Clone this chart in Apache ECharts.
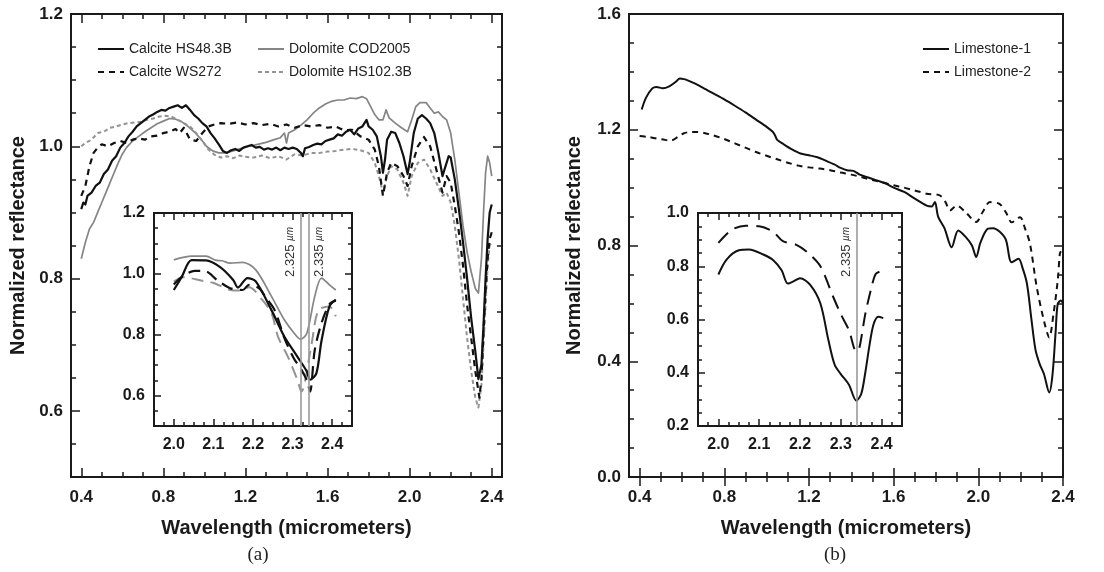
<!DOCTYPE html>
<html><head><meta charset="utf-8">
<script src="https://cdn.jsdelivr.net/npm/echarts@6/dist/echarts.min.js"></script>
<style>html,body{margin:0;padding:0;background:#fff}#c{width:1104px;height:572px}</style>
</head><body><div id="c"></div><script>
// ---------- tick labels ----------
const mainXTicks = [0.4, 0.8, 1.2, 1.6, 2.0, 2.4];
const mainAYTicks = [0.6, 0.8, 1.0, 1.2];
const mainBYTicks = [0.0, 0.4, 0.8, 1.2, 1.6];
const insetXTicks = [2.0, 2.1, 2.2, 2.3, 2.4];
const insetAYTicks = [0.6, 0.8, 1.0, 1.2];
const insetBYTicks = [0.2, 0.4, 0.6, 0.8, 1.0];

// ---------- panel (a) main ----------
const calciteHS48 = [[0.40,0.905],[0.41,0.915],[0.42,0.912],[0.43,0.925],[0.45,0.93],[0.47,0.94],[0.49,0.945],[0.51,0.958],[0.53,0.965],[0.55,0.978],[0.57,0.985],[0.59,0.998],[0.61,1.005],[0.63,1.015],[0.65,1.022],[0.67,1.03],[0.69,1.035],[0.71,1.04],[0.73,1.045],[0.75,1.048],[0.77,1.052],[0.79,1.055],[0.81,1.054],[0.83,1.058],[0.85,1.06],[0.87,1.062],[0.89,1.058],[0.91,1.062],[0.93,1.055],[0.95,1.047],[0.97,1.042],[0.99,1.035],[1.01,1.03],[1.03,1.02],[1.05,1.012],[1.07,1.003],[1.09,0.993],[1.11,0.99],[1.13,0.994],[1.15,0.996],[1.17,0.993],[1.19,0.998],[1.21,1.0],[1.23,1.002],[1.25,0.998],[1.27,0.999],[1.29,0.995],[1.31,0.997],[1.33,0.995],[1.35,0.998],[1.37,0.994],[1.39,0.998],[1.41,0.996],[1.43,0.998],[1.45,0.996],[1.47,0.99],[1.48,0.985],[1.49,0.997],[1.51,0.999],[1.53,1.002],[1.55,1.004],[1.57,1.003],[1.59,1.008],[1.61,1.01],[1.63,1.012],[1.65,1.018],[1.67,1.016],[1.69,1.022],[1.71,1.025],[1.73,1.018],[1.75,1.027],[1.77,1.03],[1.79,1.04],[1.80,1.03],[1.82,1.025],[1.84,1.015],[1.86,0.985],[1.87,0.96],[1.88,0.98],[1.89,1.01],[1.91,1.022],[1.93,1.02],[1.95,1.005],[1.97,0.985],[1.99,0.958],[2.00,0.975],[2.02,1.02],[2.04,1.042],[2.06,1.047],[2.08,1.042],[2.10,1.035],[2.12,1.02],[2.14,0.99],[2.16,0.955],[2.17,0.965],[2.19,0.985],[2.20,0.983],[2.22,0.95],[2.24,0.905],[2.26,0.855],[2.28,0.8],[2.30,0.74],[2.32,0.69],[2.335,0.648],[2.35,0.67],[2.36,0.73],[2.37,0.8],[2.38,0.86],[2.39,0.9],[2.40,0.912]];
const calciteWS272 = [[0.40,0.925],[0.42,0.94],[0.44,0.97],[0.46,0.99],[0.48,0.998],[0.50,1.003],[0.53,1.0],[0.56,1.005],[0.59,1.008],[0.62,1.005],[0.65,1.01],[0.68,1.012],[0.71,1.01],[0.74,1.015],[0.77,1.016],[0.80,1.02],[0.83,1.022],[0.86,1.026],[0.88,1.02],[0.90,1.028],[0.93,1.01],[0.96,1.008],[0.99,1.02],[1.02,1.03],[1.05,1.033],[1.08,1.035],[1.12,1.034],[1.16,1.036],[1.20,1.033],[1.24,1.035],[1.28,1.032],[1.32,1.034],[1.36,1.03],[1.40,1.033],[1.44,1.028],[1.48,1.032],[1.52,1.03],[1.56,1.032],[1.60,1.028],[1.64,1.03],[1.68,1.024],[1.72,1.025],[1.76,1.015],[1.80,1.01],[1.83,0.995],[1.85,0.97],[1.87,0.925],[1.89,0.96],[1.91,0.975],[1.94,0.97],[1.97,0.955],[1.99,0.94],[2.01,0.97],[2.04,1.0],[2.07,1.014],[2.10,1.0],[2.13,0.965],[2.16,0.93],[2.18,0.955],[2.20,0.945],[2.22,0.91],[2.24,0.87],[2.26,0.82],[2.28,0.76],[2.30,0.71],[2.32,0.66],[2.34,0.62],[2.35,0.65],[2.36,0.72],[2.37,0.78],[2.38,0.83],[2.39,0.86],[2.40,0.87]];
const dolomiteCOD = [[0.40,0.83],[0.42,0.855],[0.44,0.875],[0.46,0.885],[0.48,0.9],[0.50,0.915],[0.52,0.93],[0.54,0.945],[0.56,0.96],[0.58,0.975],[0.60,0.988],[0.62,0.998],[0.65,1.008],[0.68,1.015],[0.71,1.022],[0.74,1.028],[0.77,1.034],[0.80,1.038],[0.83,1.042],[0.86,1.041],[0.89,1.037],[0.92,1.03],[0.95,1.022],[0.98,1.012],[1.01,1.0],[1.04,0.993],[1.07,0.99],[1.10,0.99],[1.14,0.993],[1.18,0.997],[1.22,1.0],[1.26,1.003],[1.30,1.006],[1.34,1.01],[1.37,1.013],[1.39,1.02],[1.40,1.005],[1.41,1.02],[1.44,1.025],[1.47,1.032],[1.50,1.04],[1.53,1.05],[1.56,1.058],[1.59,1.064],[1.62,1.068],[1.65,1.07],[1.68,1.07],[1.71,1.073],[1.74,1.072],[1.77,1.075],[1.79,1.072],[1.81,1.06],[1.83,1.048],[1.85,1.04],[1.87,1.04],[1.885,1.055],[1.90,1.043],[1.93,1.035],[1.96,1.028],[1.99,1.022],[2.01,1.04],[2.03,1.06],[2.05,1.066],[2.08,1.066],[2.10,1.058],[2.12,1.05],[2.14,1.052],[2.16,1.045],[2.18,1.04],[2.20,1.02],[2.22,0.98],[2.24,0.93],[2.26,0.88],[2.28,0.84],[2.30,0.81],[2.32,0.785],[2.335,0.778],[2.35,0.83],[2.36,0.9],[2.37,0.96],[2.38,0.985],[2.39,0.975],[2.40,0.955]];
const dolomiteHS102 = [[0.40,1.0],[0.42,1.005],[0.45,1.01],[0.48,1.02],[0.51,1.022],[0.54,1.028],[0.57,1.03],[0.60,1.033],[0.63,1.035],[0.66,1.036],[0.69,1.037],[0.72,1.04],[0.75,1.042],[0.78,1.045],[0.81,1.046],[0.84,1.045],[0.87,1.04],[0.90,1.035],[0.93,1.03],[0.96,1.02],[0.99,1.008],[1.02,0.995],[1.05,0.987],[1.08,0.983],[1.11,0.985],[1.14,0.982],[1.17,0.986],[1.20,0.984],[1.24,0.983],[1.28,0.986],[1.32,0.982],[1.36,0.985],[1.40,0.98],[1.44,0.988],[1.48,0.986],[1.52,0.99],[1.56,0.99],[1.60,0.992],[1.64,0.993],[1.68,0.995],[1.72,0.996],[1.76,0.994],[1.80,0.99],[1.83,0.975],[1.85,0.955],[1.87,0.93],[1.89,0.955],[1.91,0.97],[1.94,0.965],[1.97,0.945],[1.99,0.925],[2.01,0.955],[2.04,0.975],[2.07,0.98],[2.10,0.965],[2.13,0.945],[2.16,0.925],[2.18,0.93],[2.20,0.915],[2.22,0.88],[2.24,0.83],[2.26,0.77],[2.28,0.71],[2.30,0.66],[2.32,0.62],[2.335,0.605],[2.35,0.64],[2.36,0.7],[2.37,0.76],[2.38,0.82],[2.39,0.85],[2.40,0.855]];

// ---------- panel (a) inset ----------
const insetCalciteHS48 = [[2.0,0.947],[2.02,0.99],[2.045,1.045],[2.081,1.044],[2.117,1.022],[2.15,0.98],[2.162,0.955],[2.186,0.986],[2.207,0.975],[2.247,0.88],[2.279,0.794],[2.312,0.728],[2.336,0.679],[2.344,0.652],[2.36,0.673],[2.373,0.78],[2.393,0.893],[2.409,0.915]];
const insetCalciteWS272 = [[2.0,0.965],[2.02,0.99],[2.053,1.01],[2.081,1.008],[2.109,0.98],[2.142,0.953],[2.174,0.947],[2.19,0.964],[2.215,0.953],[2.231,0.925],[2.255,0.88],[2.279,0.79],[2.304,0.72],[2.32,0.69],[2.336,0.65],[2.344,0.613],[2.356,0.75],[2.373,0.838],[2.393,0.9],[2.409,0.912]];
const insetDolomiteCOD = [[2.0,1.046],[2.045,1.058],[2.081,1.058],[2.105,1.045],[2.122,1.043],[2.142,1.035],[2.174,1.038],[2.207,1.013],[2.247,0.925],[2.279,0.849],[2.304,0.805],[2.32,0.785],[2.336,0.805],[2.356,0.926],[2.373,0.986],[2.393,0.964],[2.409,0.947]];
const insetDolomiteHS102 = [[2.0,0.975],[2.024,0.989],[2.069,0.978],[2.101,0.97],[2.142,0.947],[2.166,0.945],[2.19,0.956],[2.223,0.915],[2.247,0.87],[2.263,0.794],[2.288,0.728],[2.312,0.652],[2.322,0.613],[2.348,0.77],[2.365,0.88],[2.393,0.893],[2.409,0.86]];
const insetAMarkerPos = [2.317, 2.337];
const insetAMarkerText = ['2.325', '2.335'];

// ---------- panel (b) main ----------
const limestone1 = [[0.41,1.27],[0.43,1.31],[0.46,1.343],[0.48,1.348],[0.51,1.343],[0.54,1.35],[0.57,1.365],[0.59,1.377],[0.61,1.375],[0.63,1.37],[0.66,1.36],[0.70,1.345],[0.75,1.325],[0.80,1.305],[0.85,1.283],[0.90,1.26],[0.95,1.235],[1.00,1.21],[1.03,1.192],[1.04,1.18],[1.05,1.165],[1.08,1.15],[1.12,1.132],[1.16,1.118],[1.20,1.112],[1.24,1.105],[1.28,1.093],[1.32,1.08],[1.35,1.068],[1.38,1.06],[1.41,1.058],[1.44,1.045],[1.48,1.035],[1.52,1.025],[1.56,1.015],[1.60,1.0],[1.65,0.985],[1.70,0.962],[1.756,0.938],[1.78,0.935],[1.795,0.95],[1.81,0.9],[1.84,0.86],[1.874,0.794],[1.905,0.852],[1.94,0.83],[1.97,0.8],[1.99,0.76],[2.01,0.81],[2.045,0.858],[2.07,0.86],[2.10,0.848],[2.13,0.82],[2.157,0.742],[2.19,0.754],[2.21,0.72],[2.23,0.667],[2.25,0.55],[2.27,0.44],[2.29,0.39],[2.31,0.356],[2.335,0.292],[2.35,0.35],[2.365,0.5],[2.375,0.598],[2.39,0.61],[2.40,0.6]];
const limestone2 = [[0.40,1.178],[0.44,1.175],[0.48,1.17],[0.52,1.165],[0.55,1.163],[0.58,1.175],[0.61,1.188],[0.64,1.192],[0.67,1.192],[0.71,1.188],[0.75,1.18],[0.80,1.168],[0.85,1.153],[0.90,1.138],[0.95,1.123],[1.00,1.11],[1.05,1.098],[1.10,1.086],[1.15,1.076],[1.20,1.07],[1.25,1.066],[1.30,1.06],[1.35,1.052],[1.40,1.045],[1.45,1.036],[1.50,1.026],[1.55,1.018],[1.60,1.008],[1.65,1.0],[1.70,0.99],[1.756,0.979],[1.818,0.973],[1.845,0.95],[1.866,0.921],[1.898,0.938],[1.94,0.915],[1.99,0.881],[2.02,0.915],[2.055,0.95],[2.10,0.944],[2.13,0.915],[2.158,0.88],[2.197,0.898],[2.22,0.86],[2.244,0.806],[2.276,0.656],[2.31,0.54],[2.335,0.482],[2.355,0.563],[2.375,0.679],[2.385,0.771],[2.39,0.78]];

// ---------- panel (b) inset ----------
const insetLimestone1 = [[2.0,0.769],[2.02,0.825],[2.05,0.86],[2.075,0.863],[2.11,0.844],[2.135,0.822],[2.155,0.785],[2.17,0.735],[2.185,0.744],[2.2,0.755],[2.225,0.73],[2.25,0.66],[2.27,0.52],[2.285,0.43],[2.30,0.395],[2.32,0.355],[2.338,0.295],[2.35,0.32],[2.36,0.4],[2.37,0.5],[2.38,0.58],[2.392,0.61],[2.404,0.605]];
const insetLimestone2 = [[2.0,0.8875],[2.033,0.9375],[2.067,0.9525],[2.10,0.95],[2.133,0.931],[2.158,0.894],[2.19,0.881],[2.22,0.85],[2.25,0.80],[2.28,0.69],[2.30,0.62],[2.32,0.56],[2.338,0.48],[2.345,0.49],[2.36,0.62],[2.375,0.72],[2.385,0.77],[2.396,0.78]];
const insetBMarkerPos = [2.337];
const insetBMarkerText = ['2.335'];

// ================= build =================
const FONT = 'Arial, "Liberation Sans", Helvetica, sans-serif';
const INK = '#1a1a1a';
function seq(a, b, step) { const r = []; for (let i = 0; a + i * step <= b + 1e-9; i++) r.push(Math.round((a + i * step) * 1000) / 1000); return r; }

const grids = [
  { left: 71, top: 14, width: 431, height: 463 },
  { left: 154, top: 213, width: 198, height: 213 },
  { left: 629, top: 14, width: 434, height: 463 },
  { left: 698, top: 213, width: 204, height: 213 }
].map(g => Object.assign(g, { show: true, borderColor: INK, borderWidth: 2, backgroundColor: '#fff', containLabel: false }));

const xAxes = [], yAxes = [];
function addAxes(list, dim, gi, min, max, majors, minorStart, minorStep, cfg) {
  const minors = seq(minorStart, max, minorStep).filter(v => v >= min - 1e-9 && v <= max + 1e-9);
  const pos = dim === 'x' ? ['bottom', 'top'] : ['left', 'right'];
  let primary = -1;
  pos.forEach((p, pi) => {
    const base = { type: 'value', gridIndex: gi, min, max, position: p, splitLine: { show: false }, axisLine: { show: false }, splitArea: { show: false } };
    list.push(Object.assign({}, base, {
      axisTick: { show: true, inside: true, length: cfg.minorLen, customValues: minors, lineStyle: { color: INK, width: 1.5 } },
      axisLabel: { show: false }
    }));
    const major = Object.assign({}, base, {
      axisTick: { show: true, inside: true, length: cfg.majorLen, customValues: majors, lineStyle: { color: INK, width: 1.5 } },
      axisLabel: pi === 0 ? { show: true, customValues: majors, formatter: v => Number(v).toFixed(1), fontSize: cfg.fontSize, fontWeight: 'bold', color: INK, fontFamily: FONT, margin: cfg.margin } : { show: false }
    });
    if (pi === 0 && cfg.name) {
      Object.assign(major, { name: cfg.name, nameLocation: 'middle', nameGap: cfg.nameGap,
        nameTextStyle: { fontSize: 20, fontWeight: 'bold', color: INK, fontFamily: FONT } });
    }
    if (pi === 0) primary = list.length;
    list.push(major);
  });
  return primary;
}

const mainCfgX = { minorLen: 5, majorLen: 9, fontSize: 17, margin: 12, name: 'Wavelength (micrometers)', nameGap: 41 };
const insetCfgX = { minorLen: 4, majorLen: 7, fontSize: 16, margin: 11 };
const insetCfgY = { minorLen: 4, majorLen: 7, fontSize: 16, margin: 9 };

const ax = {};
ax.aX = addAxes(xAxes, 'x', 0, 0.35, 2.45, mainXTicks, 0.4, 0.1, mainCfgX);
ax.aY = addAxes(yAxes, 'y', 0, 0.5, 1.2, mainAYTicks, 0.5, 0.05, { minorLen: 5, majorLen: 9, fontSize: 17, margin: 8, name: 'Normalized reflectance', nameGap: 43 });
ax.aiX = addAxes(xAxes, 'x', 1, 1.95, 2.45, insetXTicks, 1.95, 0.025, insetCfgX);
ax.aiY = addAxes(yAxes, 'y', 1, 0.5, 1.2, insetAYTicks, 0.5, 0.05, insetCfgY);
ax.bX = addAxes(xAxes, 'x', 2, 0.35, 2.4, mainXTicks, 0.4, 0.1, mainCfgX);
ax.bY = addAxes(yAxes, 'y', 2, 0.0, 1.6, mainBYTicks, 0.0, 0.1, { minorLen: 5, majorLen: 9, fontSize: 17, margin: 8, name: 'Normalized reflectance', nameGap: 45 });
ax.biX = addAxes(xAxes, 'x', 3, 1.95, 2.45, insetXTicks, 1.95, 0.025, insetCfgX);
ax.biY = addAxes(yAxes, 'y', 3, 0.2, 1.0, insetBYTicks, 0.2, 0.05, insetCfgY);

const BLACK = '#111', GRAY = '#858585', GRAY2 = '#939393';
function line(name, data, xi, yi, color, width, dash, smooth, extra) {
  return Object.assign({
    type: 'line', name, data, xAxisIndex: xi, yAxisIndex: yi, symbol: 'none', showSymbol: false,
    smooth: smooth || false, silent: true,
    lineStyle: { color, width, type: dash || 'solid', cap: 'butt', join: 'round' },
    itemStyle: { color }
  }, extra || {});
}
function markerLines(pos, text, sides) {
  return {
    silent: true, symbol: ['none', 'none'], animation: false,
    lineStyle: { color: '#9a9a9a', width: 1.6, type: 'solid' },
    data: pos.map((p, i) => ({
      xAxis: p,
      label: { show: true, position: sides[i], distance: [14, 4], formatter: '{v|' + text[i] + '} {u|µm}',
        rich: { v: { fontSize: 13, color: '#333', fontFamily: FONT }, u: { fontSize: 10, fontStyle: 'italic', color: '#333', fontFamily: FONT } } }
    }))
  };
}

const series = [
  line('Dolomite COD2005', dolomiteCOD, ax.aX, ax.aY, GRAY, 1.7),
  line('Dolomite HS102.3B', dolomiteHS102, ax.aX, ax.aY, GRAY2, 2, [4, 3]),
  line('Calcite WS272', calciteWS272, ax.aX, ax.aY, BLACK, 2.2, [6, 5]),
  line('Calcite HS48.3B', calciteHS48, ax.aX, ax.aY, BLACK, 2.2),
  line('inset Dolomite COD2005', insetDolomiteCOD, ax.aiX, ax.aiY, GRAY, 1.7, null, 0.3,
    { markLine: markerLines(insetAMarkerPos, insetAMarkerText, ['insideEndTop', 'insideEndBottom']) }),
  line('inset Dolomite HS102.3B', insetDolomiteHS102, ax.aiX, ax.aiY, GRAY2, 2, [12, 7], 0.3),
  line('inset Calcite WS272', insetCalciteWS272, ax.aiX, ax.aiY, BLACK, 2.2, [12, 7], 0.3),
  line('inset Calcite HS48.3B', insetCalciteHS48, ax.aiX, ax.aiY, BLACK, 2.2, null, 0.3),
  line('Limestone-1', limestone1, ax.bX, ax.bY, BLACK, 2, null, 0.3),
  line('Limestone-2', limestone2, ax.bX, ax.bY, BLACK, 2, [6, 5], 0.3),
  line('inset Limestone-1', insetLimestone1, ax.biX, ax.biY, BLACK, 2, null, 0.3,
    { markLine: markerLines(insetBMarkerPos, insetBMarkerText, ['insideEndTop']) }),
  line('inset Limestone-2', insetLimestone2, ax.biX, ax.biY, BLACK, 2, [14, 8], 0.3)
];

function leg(name, left, top) {
  return { data: [name], left, top, orient: 'horizontal', padding: 0, itemGap: 0, itemWidth: 26, itemHeight: 14,
    selectedMode: false, itemStyle: { opacity: 0, color: 'rgba(0,0,0,0)', borderColor: 'rgba(0,0,0,0)', borderWidth: 0 },
    textStyle: { fontSize: 14, color: '#222', fontFamily: FONT } };
}
const legends = [
  leg('Calcite HS48.3B', 97, 42), leg('Dolomite COD2005', 257, 42),
  leg('Calcite WS272', 97, 65), leg('Dolomite HS102.3B', 257, 65),
  leg('Limestone-1', 922, 42), leg('Limestone-2', 922, 65)
];

const chart = echarts.init(document.getElementById('c'), null, { renderer: 'canvas' });
chart.setOption({
  backgroundColor: '#fff', animation: false,
  grid: grids, xAxis: xAxes, yAxis: yAxes, series, legend: legends,
  graphic: [
    { type: 'text', x: 258, y: 555, style: { text: '(a)', textAlign: 'center', textVerticalAlign: 'middle', fontSize: 19, fontFamily: '"Times New Roman", "Liberation Serif", serif', fill: '#222' } },
    { type: 'text', x: 835, y: 555, style: { text: '(b)', textAlign: 'center', textVerticalAlign: 'middle', fontSize: 19, fontFamily: '"Times New Roman", "Liberation Serif", serif', fill: '#222' } }
  ]
});
</script></body></html>
